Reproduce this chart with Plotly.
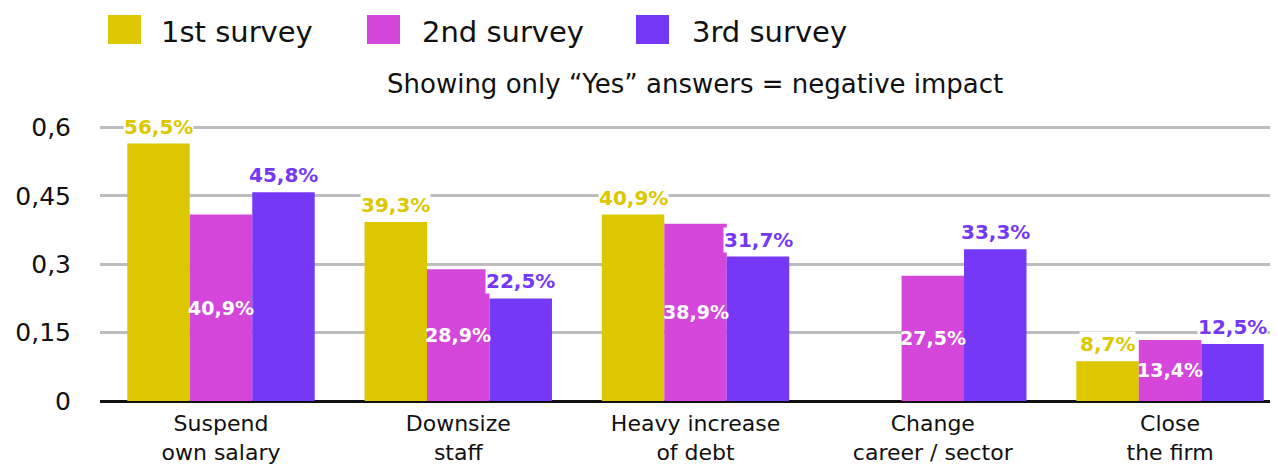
import plotly.graph_objects as go

categories = ["Suspend<br>own salary", "Downsize<br>staff", "Heavy increase<br>of debt",
              "Change<br>career / sector", "Close<br>the firm"]
series_names = ["1st survey", "2nd survey", "3rd survey"]
survey1 = [0.565, 0.393, 0.409, None, 0.087]
survey2 = [0.409, 0.289, 0.389, 0.275, 0.134]
survey3 = [0.458, 0.225, 0.317, 0.333, 0.125]
labels1 = ["56,5%", "39,3%", "40,9%", None, "8,7%"]
labels2 = ["40,9%", "28,9%", "38,9%", "27,5%", "13,4%"]
labels3 = ["45,8%", "22,5%", "31,7%", "33,3%", "12,5%"]
ytick_vals = [0, 0.15, 0.3, 0.45, 0.6]

colors = ["#DDC700", "#D546DB", "#7538F6"]
FONT = "DejaVu Sans"

OFF = 8  # page body offset
W, H = 1270, 458
ML, MR, MT, MB = 92, 0, 115, 65
PW, PH = W - ML - MR, H - MT - MB
YMAX = 0.61


def px(x):
    return (x - OFF - ML) / PW


def py(y):
    return (H - MB - (y - OFF)) / PH


xs = list(range(len(categories)))
fig = go.Figure()
for name, vals, col in zip(series_names, [survey1, survey2, survey3], colors):
    fig.add_trace(go.Bar(x=xs, y=vals, name=name, marker_color=col,
                         marker_line_width=0, showlegend=False))

bargap = 0.21
bw = (1 - bargap) / 3
annotations = []
for si, (vals, labs) in enumerate(zip([survey1, survey2, survey3], [labels1, labels2, labels3])):
    off = (si - 1) * bw
    for i, (v, t) in enumerate(zip(vals, labs)):
        if v is None or t is None:
            continue
        if si == 1:
            annotations.append(dict(x=i + off, y=v / 2, xref="x", yref="y", text=f"<b>{t}</b>",
                                    showarrow=False, font=dict(family=FONT, size=19, color="white")))
        else:
            annotations.append(dict(x=i + off, y=v, xref="x", yref="y", text=f"<b>{t}</b>",
                                    showarrow=False, yanchor="bottom", yshift=4,
                                    bgcolor="white", borderpad=0,
                                    font=dict(family=FONT, size=20, color=colors[si])))

# manual legend
shapes = []
leg_sq = [108, 367, 636]
leg_tx = [159, 420, 690]
for name, col, sx, tx in zip(series_names, colors, leg_sq, leg_tx):
    shapes.append(dict(type="rect", xref="paper", yref="paper",
                       x0=px(sx), x1=px(sx + 33), y0=py(44), y1=py(15),
                       fillcolor=col, line_width=0, layer="above"))
    annotations.append(dict(x=px(tx), y=py(32), xref="paper", yref="paper", text=name,
                            showarrow=False, xanchor="left", yanchor="middle",
                            font=dict(family=FONT, size=29, color="#111111")))

annotations.append(dict(x=px(695), y=py(84), xref="paper", yref="paper",
                        text="Showing only “Yes” answers = negative impact",
                        showarrow=False, xanchor="center", yanchor="middle",
                        font=dict(family=FONT, size=26, color="#111111")))

fig.update_layout(
    width=W, height=H,
    margin=dict(l=ML, r=MR, t=MT, b=MB, autoexpand=False),
    barmode="group", bargap=bargap, bargroupgap=0,
    plot_bgcolor="white", paper_bgcolor="white",
    separators=",.",
    font=dict(family=FONT, color="#111111"),
    annotations=annotations, shapes=shapes,
    xaxis=dict(tickmode="array", tickvals=xs, ticktext=categories,
               range=[-0.51, 4.455], showgrid=False, showline=False, zeroline=False,
               ticklabelstandoff=7, automargin=False,
               tickfont=dict(family=FONT, size=22, color="#111111")),
    yaxis=dict(range=[0, YMAX], tickvals=ytick_vals, showgrid=True, automargin=False,
               gridcolor="#BDBDBD", gridwidth=3, zeroline=True, zerolinecolor="#111111",
               zerolinewidth=3, showline=False, ticklabelstandoff=28,
               tickfont=dict(family=FONT, size=25, color="#111111")),
)
fig.write_html("out.html")
